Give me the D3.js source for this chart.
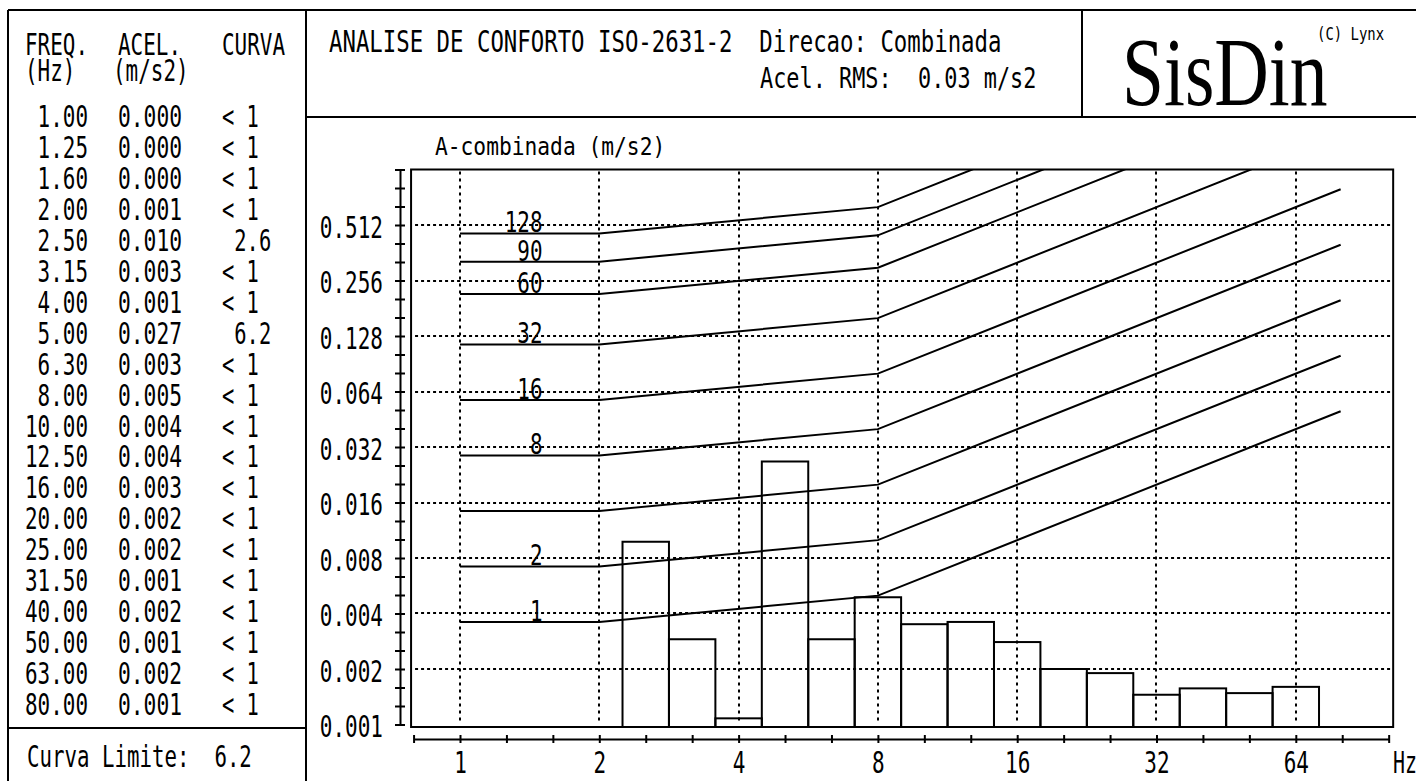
<!DOCTYPE html>
<html lang="pt">
<head>
<meta charset="UTF-8">
<script src="https://d3js.org/d3.v7.min.js"></script>
<title>Analise de Conforto ISO-2631-2</title>
<style>
  body { margin: 0; background: #fff; }
  svg text { font-family: "DejaVu Sans Mono", monospace; white-space: pre; fill: #000; }
</style>
</head>
<body>
<svg id="chart" width="1416" height="781"></svg>
<script>
// table of the left panel (as printed)
const freqs = [1.00, 1.25, 1.60, 2.00, 2.50, 3.15, 4.00, 5.00, 6.30, 8.00, 10.00, 12.50, 16.00, 20.00, 25.00, 31.50, 40.00, 50.00, 63.00, 80.00];
const acelTable = [0.000, 0.000, 0.000, 0.001, 0.010, 0.003, 0.001, 0.027, 0.003, 0.005, 0.004, 0.004, 0.003, 0.002, 0.002, 0.001, 0.002, 0.001, 0.002, 0.001];
const curva = ["< 1", "< 1", "< 1", "< 1", " 2.6", "< 1", "< 1", " 6.2", "< 1", "< 1", "< 1", "< 1", "< 1", "< 1", "< 1", "< 1", "< 1", "< 1", "< 1", "< 1"];
const curvaLimite = "6.2";

// band levels (m/s2)
const bandAcc = [0.0003, 0.0003, 0.0003, 0.0009, 0.0098, 0.0029, 0.00108, 0.0267, 0.0029, 0.0049, 0.0035, 0.0036, 0.0028, 0.0020, 0.0019, 0.00145, 0.00157, 0.00148, 0.0016, 0.0009];

// ISO 2631-2 combined base curve and its multiples
const baseFreq = [1, 2, 8, 80];
const baseAcc = [0.0036, 0.0036, 0.005, 0.05];
const curveFactors = [1, 2, 4, 8, 16, 32, 60, 90, 128];
const curveLabels = ["1", "2", "", "8", "16", "32", "60", "90", "128"];

// axis ticks
const xLabelTicks = [1, 2, 4, 8, 16, 32, 64];
const yLabelTicks = [0.001, 0.002, 0.004, 0.008, 0.016, 0.032, 0.064, 0.128, 0.256, 0.512];

const svg = d3.select("#chart");

// text in the narrow plotter font: monospace squeezed to the wanted pitch
function say(parent, x, y, s, size, pitch, anchor) {
    const sx = pitch / (size * 0.602);
    return parent.append("text")
        .attr("transform", "translate(" + x + "," + y + ") scale(" + sx + ",1)")
        .attr("font-size", size)
        .attr("text-anchor", anchor || "start")
        .text(s);
}

// ---- panel borders
const frameLines = [
    [8, 10, 1416, 10], [8, 10, 8, 781], [306, 10, 306, 781],
    [306, 117, 1416, 117], [1082, 10, 1082, 117], [8, 728, 306, 728]
];
svg.selectAll("line.panel")
    .data(frameLines)
    .enter().append("line")
    .attr("class", "panel")
    .attr("x1", d => d[0]).attr("y1", d => d[1])
    .attr("x2", d => d[2]).attr("y2", d => d[3])
    .attr("stroke", "#000")
    .attr("stroke-width", 2);

// ---- left table
const gTable = svg.append("g");
say(gTable, 25, 55, "FREQ.", 30, 12.6);
say(gTable, 118, 55, "ACEL.", 30, 12.6);
say(gTable, 222, 55, "CURVA", 30, 12.6);
say(gTable, 25, 81, "(Hz)", 30, 12.6);
say(gTable, 113, 81, "(m/s2)", 30, 12.6);
freqs.forEach((f, i) => {
    const yy = 127 + i * 30.95;
    say(gTable, 25, yy, d3.format(".2f")(f).padStart(5, " "), 30, 12.6);
    say(gTable, 118, yy, d3.format(".3f")(acelTable[i]), 30, 12.8);
    say(gTable, 222, yy, curva[i], 30, 12.3);
});
say(gTable, 27, 767, "Curva Limite:  " + curvaLimite, 30, 12.5);

// ---- header
say(svg, 329, 52, "ANALISE DE CONFORTO ISO-2631-2  Direcao: Combinada", 31, 13.45);
say(svg, 760, 88, "Acel. RMS:  0.03 m/s2", 29, 13.17);
svg.append("text")
    .attr("transform", "translate(1122,105) scale(0.77,1)")
    .style("font-family", "'Liberation Serif', 'DejaVu Serif', serif")
    .attr("font-size", 98)
    .text("SisDin");
say(svg, 1317, 40, "(C) Lynx", 18, 8.4);

// ---- scales
const x = d3.scaleLog().base(2)
    .domain([Math.pow(2, -1 / 3), Math.pow(2, 20 / 3)])
    .range([460 - 139.3 / 3, 460 + 139.3 * 20 / 3]);
const y = d3.scaleLog().base(2)
    .domain([0.001, 1.024])
    .range([724.5, 169.5]);

const plotL = x.range()[0] - 2.5, plotR = x.range()[1] + 4.5;
const plotT = y.range()[1], plotB = y.range()[0] + 2.5;

say(svg, 435, 155, "A-combinada (m/s2)", 25, 12.8);

svg.append("clipPath").attr("id", "plotClip")
    .append("rect")
    .attr("x", plotL).attr("y", plotT)
    .attr("width", plotR - plotL).attr("height", plotB - plotT);

const gPlot = svg.append("g");

// grid
gPlot.selectAll("line.vgrid")
    .data(xLabelTicks)
    .enter().append("line")
    .attr("class", "vgrid")
    .attr("x1", d => Math.round(x(d))).attr("x2", d => Math.round(x(d)))
    .attr("y1", plotT + 2).attr("y2", plotB - 3)
    .attr("stroke", "#000").attr("stroke-width", 2)
    .attr("stroke-dasharray", "3,4");

gPlot.selectAll("line.hgrid")
    .data(yLabelTicks.slice(1))
    .enter().append("line")
    .attr("class", "hgrid")
    .attr("x1", plotL + 4).attr("x2", plotR - 2)
    .attr("y1", d => Math.round(y(d))).attr("y2", d => Math.round(y(d)))
    .attr("stroke", "#000").attr("stroke-width", 2)
    .attr("stroke-dasharray", "3,3");

// bars: one third-octave band each, centred on the preferred frequency
const bands = freqs.map((f, i) => {
    const c = Math.pow(2, Math.round(3 * Math.log2(f)) / 3);
    return { lo: c * Math.pow(2, -1 / 6), hi: c * Math.pow(2, 1 / 6), v: bandAcc[i] };
}).filter(d => d.v > 0.001);

gPlot.selectAll("rect.bar")
    .data(bands)
    .enter().append("rect")
    .attr("class", "bar")
    .attr("x", d => x(d.lo))
    .attr("width", d => x(d.hi) - x(d.lo))
    .attr("y", d => y(d.v))
    .attr("height", d => plotB - y(d.v))
    .attr("fill", "none")
    .attr("stroke", "#000")
    .attr("stroke-width", 2);

// comfort curves
const base = baseFreq.map((f, i) => [f, baseAcc[i]]);
const line = d3.line().x(d => x(d[0])).y(d => y(d[1]));
const gCurves = gPlot.append("g").attr("clip-path", "url(#plotClip)");
gCurves.selectAll("path")
    .data(curveFactors)
    .enter().append("path")
    .attr("d", m => line(base.map(p => [p[0], p[1] * m])))
    .attr("fill", "none")
    .attr("stroke", "#000")
    .attr("stroke-width", 2);

curveFactors.forEach((m, i) => {
    if (curveLabels[i]) say(gPlot, x(1.5) + 1, y(baseAcc[0] * m) - 1, curveLabels[i], 28, 12.6, "end");
});

// plot frame
gPlot.append("rect")
    .attr("x", plotL).attr("y", plotT)
    .attr("width", plotR - plotL).attr("height", plotB - plotT)
    .attr("fill", "none").attr("stroke", "#000").attr("stroke-width", 2);

// ---- y axis (separate line, crossing ticks every third of an octave)
const yThirds = d3.range(0, 31).map(k => 0.001 * Math.pow(2, k / 3));
const gy = svg.append("g").attr("transform", "translate(400,0)")
    .call(d3.axisLeft(y).tickValues(yThirds).tickFormat("").tickSize(5).tickSizeOuter(0));
gy.selectAll(".tick line").attr("x1", 5).attr("stroke-width", 2);
gy.select(".domain").attr("stroke-width", 2);

const yLab = svg.append("g").attr("transform", "translate(400,0)")
    .call(d3.axisLeft(y).tickValues(yLabelTicks).tickFormat(d3.format(".3f")).tickSize(0).tickPadding(17));
yLab.select(".domain").remove();
yLab.attr("font-size", 30);
yLab.selectAll(".tick text")
    .attr("x", -17 / 0.70).attr("dy", "0.4em")
    .attr("transform", "scale(0.70,1)");

// ---- x axis
const xThirds = d3.range(-1, 21).map(k => Math.pow(2, k / 3));
const gx = svg.append("g").attr("transform", "translate(0,739)")
    .call(d3.axisBottom(x).tickValues(xThirds).tickFormat("").tickSize(4).tickSizeOuter(0));
gx.selectAll(".tick line").attr("y1", -4).attr("stroke-width", 2);
gx.select(".domain").attr("stroke-width", 2);

const xLab = svg.append("g").attr("transform", "translate(0,739)")
    .call(d3.axisBottom(x).tickValues(xLabelTicks).tickFormat(d3.format("d")).tickSize(0).tickPadding(13));
xLab.select(".domain").remove();
xLab.attr("font-size", 30);
xLab.selectAll(".tick text").attr("transform", "scale(0.70,1)");

say(svg, 1393, 773, "Hz", 30, 12.0);
</script>
</body>
</html>
